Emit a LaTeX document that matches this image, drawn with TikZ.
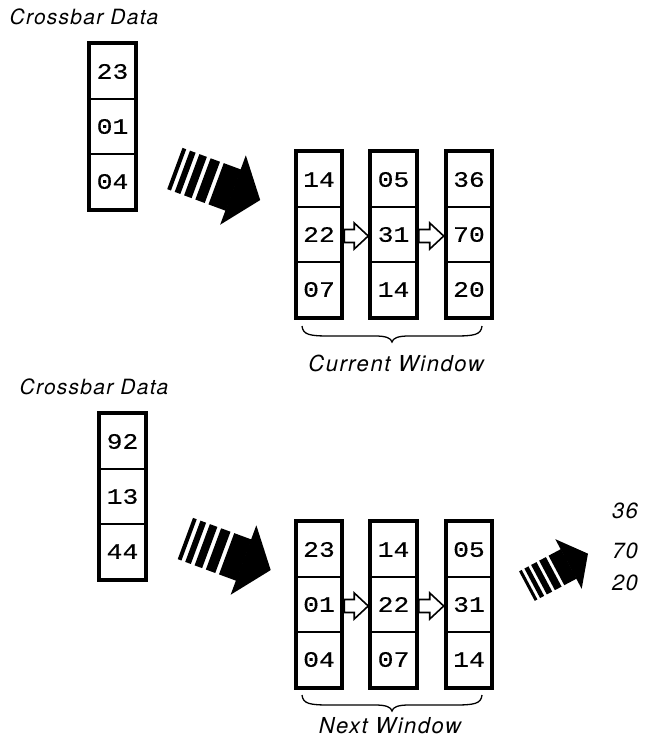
\documentclass[tikz,border=0pt]{standalone}
\usepackage{fontspec}
\setmainfont{TeX Gyre Heros}
\newfontfamily\monofont[FakeStretch=1.2, FakeBold=0.4]{Liberation Mono}
\newfontfamily\lblfont[LetterSpace=6]{TeX Gyre Heros}
\newfontfamily\winfont[LetterSpace=7]{TeX Gyre Heros}
\newfontfamily\outfont[LetterSpace=6]{TeX Gyre Heros}
\usetikzlibrary{calc}
\tikzset{
  cell/.style={draw, line width=2pt, minimum width=44.5pt, minimum height=55pt, inner sep=0pt,
    font=\monofont\fontsize{22}{23}\selectfont},
  frame/.style={draw, line width=4pt, line join=miter},
  hollow/.style={draw, fill=white, line width=1.6pt, line join=miter},
  lbl/.style={font=\lblfont\itshape\fontsize{21}{23}\selectfont, inner sep=0pt},
  wlbl/.style={font=\winfont\itshape\fontsize{22}{24}\selectfont, inner sep=0pt},
  outlbl/.style={font=\outfont\itshape\fontsize{22}{24}\selectfont, inner sep=0pt},
  bracestyle/.style={draw, line width=1.3pt},
  bigarrow/.pic={
    \fill (0,-37) -- (29,0) -- (0,37) -- cycle;
    \fill (-18,-22) rectangle (0.5,22);
    \fill (-32,-22) rectangle (-22,22);
    \fill (-44,-22) rectangle (-36,22);
    \fill (-54,-22) rectangle (-48,22);
    \fill (-62,-22) rectangle (-58,22);
  },
  curlybrace/.pic={
    \draw[bracestyle] (-90,0) .. controls (-89,9) and (-82,10) .. (-62,10) -- (-17,10)
      .. controls (-6,10) and (-1,12) .. (0,16)
      .. controls (1,12) and (6,10) .. (17,10) -- (62,10)
      .. controls (82,10) and (89,9) .. (90,0);
  }
}
\newcommand\cellcol[6]{%
  \node[cell] (#1-1) at (#2,#3+27.5) {#4};
  \node[cell] (#1-2) at (#2,#3+82.5) {#5};
  \node[cell] (#1-3) at (#2,#3+137.5) {#6};
  \draw[frame] (#1-1.north west) rectangle (#1-3.south east);
}
\newcommand\hollowarr[2]{%
  \draw[hollow] let \p1=(#1.east), \p2=(#2.west) in
    (\x1+2pt,\y1-8pt) -- (\x1+2pt,\y1+5pt) -- (\x2-16pt,\y1+5pt) -- (\x2-16pt,\y1+11.5pt)
    -- (\x2-2pt,\y1-1.5pt) -- (\x2-16pt,\y1-14.5pt) -- (\x2-16pt,\y1-8pt) -- cycle;
}
\begin{document}
\begin{tikzpicture}[x=1pt,y=-1pt]
\useasboundingbox (0,0) rectangle (645,748);
\fill[white] (0,0) rectangle (645,748);

% ---------- top half ----------
\node[lbl, anchor=base] (tcd) at (84,24.5) {Crossbar Data};
\cellcol{ct}{112.5}{44}{23}{01}{04}
\pic[rotate=-20.3] at (233,190) {bigarrow};
\cellcol{wa}{319}{152}{14}{22}{07}
\cellcol{wb}{393.5}{152}{05}{31}{14}
\cellcol{wc}{469}{152}{36}{70}{20}
\hollowarr{wa-2}{wb-2}
\hollowarr{wb-2}{wc-2}
\pic at (392,326) {curlybrace};
\node[wlbl, anchor=base] (cw) at (396,371.5) {Current Window};

% ---------- bottom half ----------
\node[lbl, anchor=base] (bcd) at (94,394.5) {Crossbar Data};
\cellcol{cb}{122.5}{414}{92}{13}{44}
\pic[rotate=-20.3] at (243.5,560) {bigarrow};
\cellcol{va}{319}{522}{23}{01}{04}
\cellcol{vb}{393.5}{522}{14}{22}{07}
\cellcol{vc}{469}{522}{05}{31}{14}
\hollowarr{va-2}{vb-2}
\hollowarr{vb-2}{vc-2}
\pic at (392,695) {curlybrace};
\node[wlbl, anchor=base] (nw) at (390,733) {Next Window};

% ---------- output ----------
\pic[rotate=28, scale=0.76] at (568.5,564) {bigarrow};
\node[outlbl] (o1) at (625,511) {36};
\node[outlbl] (o2) at (625,551) {70};
\node[outlbl] (o3) at (625,583) {20};
\end{tikzpicture}
\end{document}
